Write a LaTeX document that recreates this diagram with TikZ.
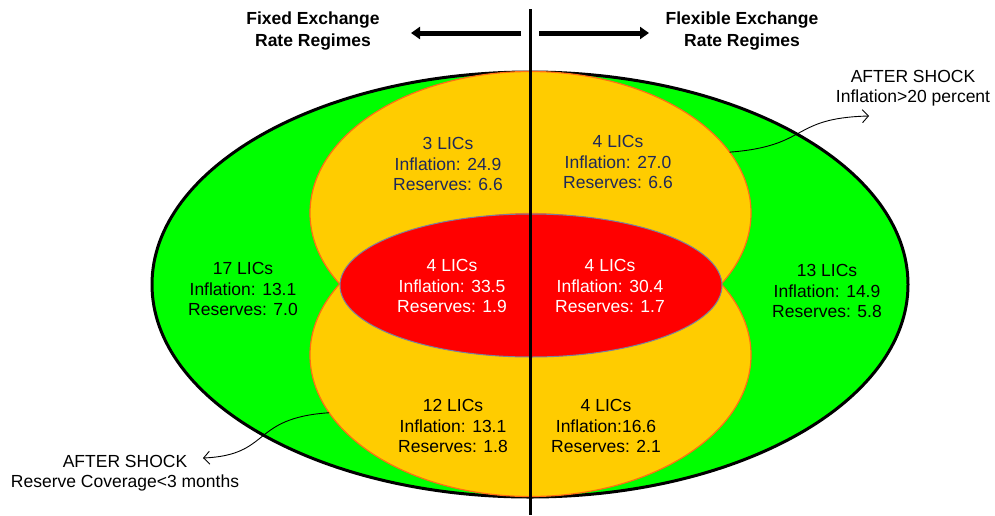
\documentclass[tikz,border=0pt]{standalone}
\usepackage{fontspec}
\setmainfont{Liberation Sans}
\usetikzlibrary{arrows.meta,shapes.geometric}
\definecolor{fverde}{RGB}{0,255,0}
\definecolor{famarillo}{RGB}{255,204,0}
\definecolor{frojo}{RGB}{255,0,0}
\definecolor{bnaranja}{RGB}{255,110,20}
\definecolor{bgris}{RGB}{120,130,160}
\definecolor{tazul}{RGB}{30,40,90}
\tikzset{
  zona/.style={ellipse,inner sep=0pt,outer sep=0pt},
  zonaam/.style={zona,draw=bnaranja,line width=1.2pt,fill=famarillo,
    minimum width=441pt,minimum height=283pt},
  etiq/.style={align=center,inner sep=0pt,font=\fontsize{17.5}{20.5}\selectfont},
  titulo/.style={align=center,inner sep=0pt,font=\bfseries\fontsize{17.5}{22}\selectfont},
  flecha/.style={-{Triangle[length=9pt,width=12pt]},line width=5pt},
  nota/.style={-{Straight Barb[length=6pt,width=13pt]},line width=0.9pt},
}
\begin{document}
\begin{tikzpicture}[x=1pt,y=-1pt]
  \useasboundingbox (0,0) rectangle (995,515);
  % regiones
  \node[zona,draw=black,line width=3pt,fill=fverde,minimum width=756pt,
    minimum height=425pt] (verde) at (530,284.5) {};
  \node[zonaam] (amarsup) at (530.5,213) {};
  \node[zonaam] (amarinf) at (530.5,355) {};
  \node[zona,draw=bgris,line width=1pt,fill=frojo,minimum width=382pt,
    minimum height=143pt] (rojo) at (531,285.5) {};
  % division de regimenes
  \coordinate (divarr) at (530,9);
  \coordinate (divab) at (530,515);
  \draw[line width=3pt] (divarr) -- (divab);
  \node[titulo] (tfijo) at (313,31) {Fixed Exchange\\Rate Regimes};
  \node[titulo] (tflex) at (742,31) {Flexible Exchange\\Rate Regimes};
  \coordinate (fijoini) at (521,33);
  \coordinate (fijofin) at (411,33);
  \coordinate (flexini) at (539,33);
  \coordinate (flexfin) at (649,33);
  \draw[flecha] (fijoini) -- (fijofin);
  \draw[flecha] (flexini) -- (flexfin);
  % cifras
  \node[etiq] (vizq) at (243,289) {17 LICs\\Inflation: 13.1\\Reserves: 7.0};
  \node[etiq] (vder) at (827,291) {13 LICs\\Inflation: 14.9\\Reserves: 5.8};
  \node[etiq,text=tazul] (sizq) at (448,164) {3 LICs\\Inflation: 24.9\\Reserves: 6.6};
  \node[etiq,text=tazul] (sder) at (618,162) {4 LICs\\Inflation: 27.0\\Reserves: 6.6};
  \node[etiq,text=white] (rizq) at (452,286) {4 LICs\\Inflation: 33.5\\Reserves: 1.9};
  \node[etiq,text=white] (rder) at (610,286) {4 LICs\\Inflation: 30.4\\Reserves: 1.7};
  \node[etiq] (iizq) at (453,426) {12 LICs\\Inflation: 13.1\\Reserves: 1.8};
  \node[etiq] (ider) at (606,426) {4 LICs\\Inflation:16.6\\Reserves: 2.1};
  % notas
  \node[etiq] (notasup) at (913,88) {AFTER SHOCK\\Inflation>20 percent};
  \node[etiq] (notainf) at (125,473) {AFTER SHOCK\\Reserve Coverage<3 months};
  \coordinate (puntasup) at (869,116);
  \coordinate (puntainf) at (203,458);
  \draw[nota] (amarsup.17.6) .. controls (810,146) and (790,118) .. (puntasup);
  \draw[nota] (amarinf.196.6) .. controls (250,418) and (272,455) .. (puntainf);
\end{tikzpicture}
\end{document}
